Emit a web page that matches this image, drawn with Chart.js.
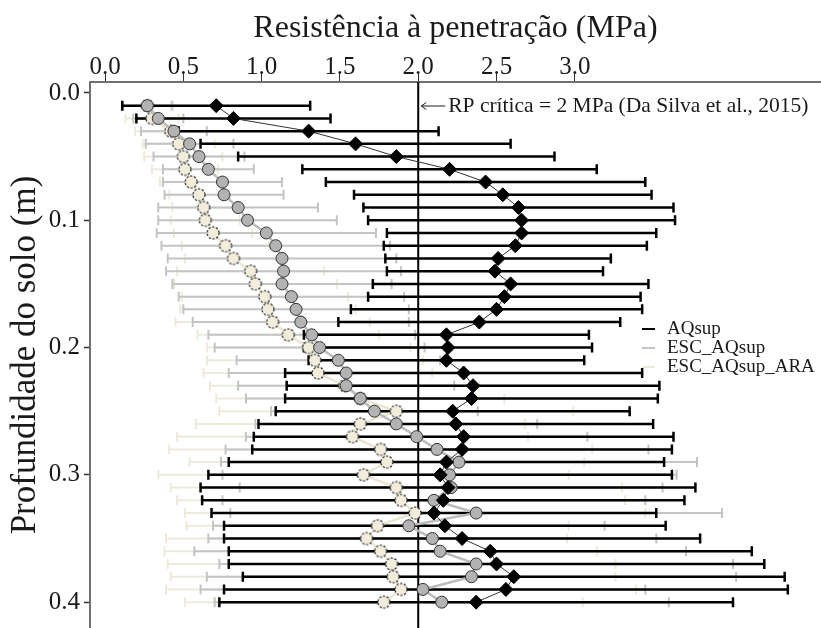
<!DOCTYPE html>
<html>
<head>
<meta charset="utf-8">
<script src="https://cdn.jsdelivr.net/npm/chart.js@4.4.0/dist/chart.umd.min.js"></script>
<style>
  html, body { margin: 0; padding: 0; background: #fff; }
  #wrap { width: 821px; height: 628px; }
</style>
</head>
<body>
<div id="wrap"><canvas id="rp-chart" width="821" height="628"></canvas></div>
<script>
// profundidade (m)
var depth = [0.01, 0.02, 0.03, 0.04, 0.05, 0.06, 0.07, 0.08, 0.09, 0.10,
             0.11, 0.12, 0.13, 0.14, 0.15, 0.16, 0.17, 0.18, 0.19, 0.20,
             0.21, 0.22, 0.23, 0.24, 0.25, 0.26, 0.27, 0.28, 0.29, 0.30,
             0.31, 0.32, 0.33, 0.34, 0.35, 0.36, 0.37, 0.38, 0.39, 0.40];

// AQsup - media e desvio (MPa)
var aqMean = [0.71, 0.82, 1.30, 1.60, 1.86, 2.20, 2.43, 2.54, 2.64, 2.66,
              2.66, 2.62, 2.51, 2.49, 2.59, 2.55, 2.50, 2.39, 2.18, 2.19,
              2.18, 2.29, 2.35, 2.34, 2.22, 2.24, 2.29, 2.28, 2.18, 2.14,
              2.19, 2.16, 2.10, 2.17, 2.28, 2.46, 2.50, 2.61, 2.56, 2.37];
var aqSd = [0.60, 0.62, 0.83, 0.99, 1.01, 0.94, 1.02, 0.95, 0.99, 0.98,
            0.86, 0.84, 0.72, 0.69, 0.88, 0.87, 0.93, 0.90, 0.91, 0.92,
            0.88, 1.14, 1.19, 1.19, 1.13, 1.26, 1.34, 1.34, 1.39, 1.48,
            1.58, 1.54, 1.42, 1.41, 1.52, 1.67, 1.71, 1.73, 1.80, 1.64];

// ESC_AQsup
var escMean = [0.27, 0.34, 0.44, 0.54, 0.60, 0.66, 0.75, 0.76, 0.85, 0.91,
               1.03, 1.09, 1.13, 1.14, 1.13, 1.19, 1.22, 1.25, 1.32, 1.37,
               1.49, 1.54, 1.54, 1.63, 1.72, 1.86, 1.99, 2.12, 2.26, 2.20,
               2.21, 2.10, 2.37, 1.94, 2.09, 2.14, 2.37, 2.34, 2.03, 2.15];
var escSd = [0.16, 0.16, 0.21, 0.28, 0.29, 0.29, 0.38, 0.38, 0.51, 0.57,
             0.70, 0.73, 0.73, 0.75, 0.70, 0.72, 0.72, 0.69, 0.66, 0.67,
             0.65, 0.75, 0.69, 0.73, 0.66, 0.90, 1.09, 1.35, 1.52, 1.45,
             1.35, 1.35, 1.57, 1.25, 1.43, 1.57, 1.64, 1.69, 1.42, 1.45];

// ESC_AQsup_ARA
var araMean = [0.27, 0.30, 0.42, 0.47, 0.50, 0.51, 0.55, 0.60, 0.63, 0.64,
               0.69, 0.77, 0.82, 0.93, 0.96, 1.02, 1.04, 1.07, 1.17, 1.30,
               1.34, 1.36, 1.53, 1.63, 1.86, 1.63, 1.58, 1.76, 1.80, 1.65,
               1.86, 1.89, 1.98, 1.74, 1.67, 1.76, 1.83, 1.84, 1.89, 1.78];
var araSd = [0.15, 0.17, 0.23, 0.23, 0.25, 0.21, 0.20, 0.19, 0.20, 0.22,
             0.25, 0.28, 0.31, 0.47, 0.52, 0.53, 0.56, 0.62, 0.58, 0.65,
             0.69, 0.73, 0.86, 0.92, 1.13, 1.05, 1.12, 1.35, 1.26, 1.31,
             1.44, 1.43, 1.47, 1.22, 1.28, 1.38, 1.43, 1.42, 1.50, 1.27];

var xTicks = [0, 0.5, 1, 1.5, 2, 2.5, 3];
var yTicks = [0, 0.1, 0.2, 0.3, 0.4];
var rpCritica = 2;

var serif = "'Liberation Serif', 'Times New Roman', serif";
var ink = '#1a1a1a';

function points(mean) {
    return mean.map(function (v, i) { return { x: v, y: depth[i] }; });
}

// circulo tracejado para ESC_AQsup_ARA
function dashedDot(fill, r) {
    var c = document.createElement('canvas');
    var s = Math.ceil(r * 2 + 4);
    c.width = s; c.height = s;
    var g = c.getContext('2d');
    g.beginPath();
    g.arc(s / 2, s / 2, r, 0, Math.PI * 2);
    g.fillStyle = fill;
    g.fill();
    g.setLineDash([2.2, 1.6]);
    g.strokeStyle = '#222';
    g.lineWidth = 1.2;
    g.stroke();
    return c;
}

var series = [
    { name: 'ESC_AQsup_ARA', mean: araMean, sd: araSd, bar: '#eeeadb', barWidth: 2 },
    { name: 'ESC_AQsup', mean: escMean, sd: escSd, bar: '#c4c4c4', barWidth: 2 },
    { name: 'AQsup', mean: aqMean, sd: aqSd, bar: '#000000', barWidth: 2.5 }
];

// sem folga extra nas bordas: a area do grafico fica fixa
function noEdgePadding(s) {
    s.paddingTop = 0; s.paddingBottom = 0;
    s.paddingLeft = 0; s.paddingRight = 0;
}

var errorBars = {
    id: 'errorBars',
    beforeDatasetsDraw: function (chart) {
        var ctx = chart.ctx, a = chart.chartArea;
        var xs = chart.scales.x, ys = chart.scales.y;
        ctx.save();
        ctx.beginPath();
        ctx.rect(a.left, a.top, a.right - a.left, a.bottom - a.top);
        ctx.clip();
        series.forEach(function (s) {
            ctx.strokeStyle = s.bar;
            ctx.lineWidth = s.barWidth;
            s.mean.forEach(function (m, i) {
                var y = ys.getPixelForValue(depth[i]);
                var x1 = xs.getPixelForValue(m - s.sd[i]);
                var x2 = xs.getPixelForValue(m + s.sd[i]);
                ctx.beginPath();
                ctx.moveTo(x1, y); ctx.lineTo(x2, y);
                ctx.moveTo(x1, y - 5); ctx.lineTo(x1, y + 5);
                ctx.moveTo(x2, y - 5); ctx.lineTo(x2, y + 5);
                ctx.stroke();
            });
        });
        // linha da RP critica
        var xc = xs.getPixelForValue(rpCritica);
        ctx.strokeStyle = '#000';
        ctx.lineWidth = 2;
        ctx.beginPath();
        ctx.moveTo(xc, a.top); ctx.lineTo(xc, a.bottom);
        ctx.stroke();
        ctx.restore();
    },
    afterDraw: function (chart) {
        var ctx = chart.ctx;
        var xs = chart.scales.x;
        var xc = xs.getPixelForValue(rpCritica);
        ctx.save();
        // seta da anotacao
        var ay = 106;
        ctx.strokeStyle = ink;
        ctx.lineWidth = 1;
        ctx.beginPath();
        ctx.moveTo(xc + 3, ay); ctx.lineTo(xc + 27, ay);
        ctx.moveTo(xc + 3, ay); ctx.lineTo(xc + 8, ay - 3.5);
        ctx.moveTo(xc + 3, ay); ctx.lineTo(xc + 8, ay + 3.5);
        ctx.stroke();

        ctx.fillStyle = ink;
        ctx.textBaseline = 'middle';
        ctx.textAlign = 'left';
        ctx.font = '21.5px ' + serif;
        ctx.fillText('RP cr\u00edtica = 2 MPa (Da Silva et al., 2015)', xc + 30, ay);

        // legenda
        var keys = [['AQsup', '#000'], ['ESC_AQsup', '#c4c4c4'], ['ESC_AQsup_ARA', '#eeeadb']];
        ctx.font = '19px ' + serif;
        keys.forEach(function (k, i) {
            var y = 329 + i * 19;
            ctx.strokeStyle = k[1];
            ctx.lineWidth = 2;
            ctx.beginPath();
            ctx.moveTo(642, y); ctx.lineTo(655, y);
            ctx.stroke();
            ctx.fillStyle = ink;
            ctx.fillText(k[0], 667, y);
        });
        ctx.restore();
    }
};

var ctx = document.getElementById('rp-chart').getContext('2d');

new Chart(ctx, {
    type: 'scatter',
    data: {
        datasets: [{
            label: 'AQsup',
            data: points(aqMean),
            showLine: true,
            borderColor: '#333',
            borderWidth: 1,
            pointStyle: 'rectRot',
            pointRadius: 7,
            pointBackgroundColor: '#000',
            pointBorderColor: '#000',
            pointBorderWidth: 1
        }, {
            label: 'ESC_AQsup',
            data: points(escMean),
            showLine: true,
            borderColor: '#bcbcbc',
            borderWidth: 2.5,
            pointStyle: 'circle',
            pointRadius: 6,
            pointBackgroundColor: '#b3b3b3',
            pointBorderColor: '#333',
            pointBorderWidth: 1
        }, {
            label: 'ESC_AQsup_ARA',
            data: points(araMean),
            showLine: true,
            borderColor: '#ebe5cf',
            borderWidth: 2.5,
            pointStyle: dashedDot('#f2eddb', 6)
        }]
    },
    plugins: [errorBars],
    options: {
        responsive: false,
        animation: false,
        layout: { padding: 0, autoPadding: false },
        plugins: {
            legend: { display: false },
            tooltip: { enabled: false }
        },
        scales: {
            x: {
                type: 'linear',
                position: 'top',
                min: -0.096,
                max: 4.572,
                afterBuildTicks: function (s) {
                    s.ticks = xTicks.map(function (v) { return { value: v }; });
                },
                afterFit: function (s) { s.height = 82; noEdgePadding(s); },
                ticks: {
                    callback: function (v) { return v.toFixed(1); },
                    font: { family: serif, size: 25 },
                    color: ink,
                    padding: -10,
                    maxRotation: 0,
                    autoSkip: false
                },
                grid: { drawOnChartArea: false, tickLength: 10, tickColor: '#333', tickWidth: 1 },
                border: { color: '#707070', width: 2 },
                title: {
                    display: true,
                    text: 'Resist\u00eancia \u00e0 penetra\u00e7\u00e3o (MPa)',
                    font: { family: serif, size: 32 },
                    color: ink,
                    padding: { top: 9, bottom: 0 }
                }
            },
            y: {
                type: 'linear',
                position: 'left',
                reverse: true,
                min: -0.0086,
                max: 0.4203,
                afterBuildTicks: function (s) {
                    s.ticks = yTicks.map(function (v) { return { value: v }; });
                },
                afterFit: function (s) { s.width = 90; noEdgePadding(s); },
                ticks: {
                    callback: function (v) { return v.toFixed(1); },
                    font: { family: serif, size: 25 },
                    color: ink,
                    padding: 4,
                    autoSkip: false
                },
                grid: { drawOnChartArea: false, tickLength: 6, tickColor: '#333', tickWidth: 1.5 },
                border: { color: '#707070', width: 2 },
                title: {
                    display: true,
                    text: 'Profundidade do solo (m)',
                    font: { family: serif, size: 35 },
                    color: ink,
                    padding: { top: 5, bottom: 0 }
                }
            }
        }
    }
});
</script>
</body>
</html>
